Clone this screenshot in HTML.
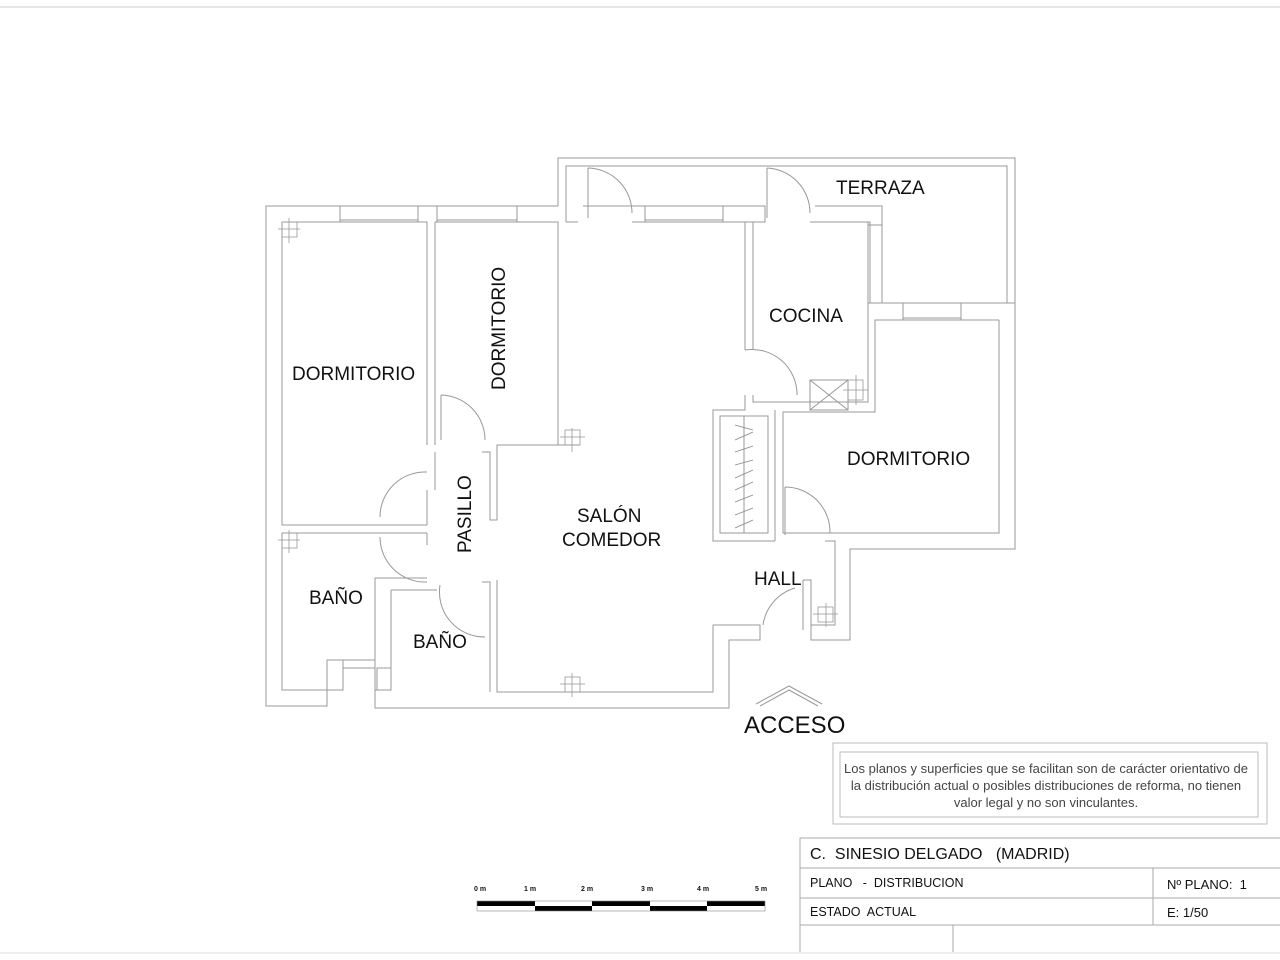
<!DOCTYPE html>
<html><head><meta charset="utf-8"><style>
html,body{margin:0;padding:0;background:#fff;width:1280px;height:960px;overflow:hidden}
svg{display:block}
text{font-family:"Liberation Sans",sans-serif;fill:#111;white-space:pre}
</style></head><body>
<svg width="1280" height="960" viewBox="0 0 1280 960" xmlns="http://www.w3.org/2000/svg">
<g fill="none" stroke="#999" stroke-width="1">
<line x1="0" y1="7" x2="1280" y2="7" stroke="#ccc"/>
<polyline points="558,206 266,206 266,706 327,706 327,690 343,690 343,660"/>
<polyline points="282,222 282,525 427,525"/>
<polyline points="282,533 282,690 327,690 327,660 375,660 375,708 729,708 729,640 760,640 760,625 713,625 713,692 497,692 497,580"/>
<polyline points="282,222 340,222"/><polyline points="418,222 427,222 427,445"/>
<polyline points="435,222 435,445"/>
<polyline points="435,222 437,222"/><polyline points="517,222 558,222 558,445 497,445 497,520 490,520 490,452 482,452"/>
<polyline points="427,490 427,525"/><polyline points="435,452 435,490"/>
<polyline points="282,533 427,533"/>
<polyline points="427,545 427,533"/>
<polyline points="386,578 375,578 375,660"/><polyline points="391,590 391,690 385,690"/>
<polyline points="391,590 437,590"/><polyline points="383,578 427,578"/>
<polyline points="482,582 490,582 490,692"/><polyline points="497,580 497,692"/>
<polyline points="343,660 375,660"/><polyline points="343,668 375,668 375,690 391,690"/>
<polyline points="558,206 558,158 1015,158 1015,303 1007,303 1007,166 566,166 566,222"/>
<polyline points="566,222 578,222"/>
<polyline points="632,222 645,222 645,206 583,206"/>
<polyline points="633,206 645,206"/>
<polyline points="723,206 765,206 765,222 745,222 745,350"/>
<polyline points="723,222 750,222"/><polyline points="810,222 870,222 870,303"/>
<polyline points="815,206 882,206 882,303 907,303"/>
<polyline points="753,222 753,350"/>
<polyline points="961,303 1015,303 1015,549 850,549 850,640 811,640 811,625 835,625 835,541 825,541"/>
<polyline points="999,320 999,533 783,533 783,412 875,412 875,320 999,320"/>
<polyline points="745,395 745,410 713,410 713,541 775,541"/>
<polyline points="753,395 753,402 868,402 868,380 868,222"/>
<polyline points="760,625 760,640"/><polyline points="803,580 811,580 811,625"/>
<polyline points="803,580 803,630"/>
<polyline points="775,541 775,410"/>
<polyline points="558,222 558,445 580,445"/>
<rect x="720" y="416" width="48" height="117"/>
<line x1="744" y1="416" x2="744" y2="533"/>
<g stroke="#888" stroke-width="0.8">
<line x1="735" y1="425" x2="753" y2="430"/><line x1="735" y1="440" x2="753" y2="432"/>
<line x1="735" y1="452" x2="753" y2="446"/><line x1="735" y1="465" x2="753" y2="460"/>
<line x1="735" y1="478" x2="753" y2="470"/><line x1="735" y1="490" x2="753" y2="482"/>
<line x1="735" y1="502" x2="753" y2="495"/><line x1="735" y1="515" x2="753" y2="508"/>
<line x1="735" y1="528" x2="753" y2="520"/>
</g>
<rect x="810" y="380" width="38" height="30"/>
<line x1="810" y1="380" x2="848" y2="410"/><line x1="848" y1="380" x2="810" y2="410"/>
<path d="M588,168 L588,218 M588,168 A45,45 0 0 1 632,213"/>
<path d="M767,168 L767,218 M767,168 A45,45 0 0 1 810,213"/>
<path d="M745,350 A45,45 0 0 1 797,395"/>
<path d="M441,395 L441,440 M441,395 A45,45 0 0 1 485,440"/>
<path d="M427,472 A45,45 0 0 0 380,517"/>
<path d="M427,582 A45,45 0 0 1 380,537"/>
<path d="M440,585 A45,45 0 0 0 485,637"/>
<path d="M785,487 L785,535 M785,487 A45,45 0 0 1 830,533"/>
<path d="M763,625 A45,45 0 0 1 795,588"/>
<rect x="340" y="206" width="78" height="16"/><line x1="340" y1="220" x2="418" y2="220"/>
<rect x="437" y="206" width="80" height="16"/><line x1="437" y1="220" x2="517" y2="220"/>
<rect x="645" y="206" width="78" height="16"/><line x1="645" y1="220" x2="723" y2="220"/>
<rect x="903" y="303" width="58" height="17"/><line x1="903" y1="318" x2="961" y2="318"/>
<rect x="868" y="225" width="14" height="78"/>
<rect x="343" y="660" width="32" height="8"/><rect x="377" y="668" width="14" height="22"/>
<g stroke="#999" stroke-width="0.8">
<rect x="282" y="222" width="15" height="15"/><line x1="278" y1="229" x2="300" y2="229"/><line x1="289" y1="218" x2="289" y2="243"/>
<rect x="282" y="533" width="15" height="15"/><line x1="278" y1="540" x2="300" y2="540"/><line x1="289" y1="530" x2="289" y2="553"/>
<rect x="565" y="430" width="15" height="15"/><line x1="560" y1="437" x2="585" y2="437"/><line x1="572" y1="428" x2="572" y2="452"/>
<rect x="565" y="677" width="15" height="15"/><line x1="560" y1="684" x2="585" y2="684"/><line x1="572" y1="673" x2="572" y2="697"/>
<rect x="848" y="380" width="15" height="20"/><line x1="843" y1="390" x2="868" y2="390"/><line x1="856" y1="375" x2="856" y2="405"/>
<rect x="818" y="607" width="15" height="15"/><line x1="813" y1="614" x2="838" y2="614"/><line x1="826" y1="603" x2="826" y2="627"/>
</g>
<polyline points="756,704 789,686 822,704"/><polyline points="760,706 789,690 818,706"/>
<rect x="833" y="743" width="434" height="81" stroke="#bbb"/>
<rect x="840" y="752" width="418" height="65" stroke="#bbb"/>
<g stroke="#aaa">
<polyline points="800,952 800,838 1280,838"/>
<line x1="800" y1="868" x2="1280" y2="868"/>
<line x1="800" y1="898" x2="1280" y2="898"/>
<line x1="800" y1="925" x2="1280" y2="925"/>
<line x1="1153" y1="868" x2="1153" y2="925"/>
<line x1="953" y1="925" x2="953" y2="952"/>
<line x1="0" y1="953" x2="1280" y2="953" stroke="#ddd"/>
</g>
</g>
<g stroke="none" fill="#000">
<rect x="477" y="901" width="58" height="5"/><rect x="592" y="901" width="58" height="5"/><rect x="707" y="901" width="58" height="5"/>
<rect x="535" y="906" width="57" height="5"/><rect x="650" y="906" width="57" height="5"/>
</g>
<rect x="477" y="901" width="288" height="10" fill="none" stroke="#888" stroke-width="0.6"/>
<g font-size="7" font-weight="bold">
<text x="474" y="891">0 m</text><text x="524" y="891">1 m</text><text x="581" y="891">2 m</text><text x="641" y="891">3 m</text><text x="697" y="891">4 m</text><text x="755" y="891">5 m</text>
</g>
<g font-size="19">
<text x="836" y="194">TERRAZA</text>
<text x="769" y="322">COCINA</text>
<text x="292" y="380">DORMITORIO</text>
<text x="847" y="465">DORMITORIO</text>
<text x="577" y="522">SALÓN</text>
<text x="562" y="546">COMEDOR</text>
<text x="754" y="585">HALL</text>
<text x="309" y="604">BAÑO</text>
<text x="413" y="648">BAÑO</text>
<text transform="translate(505,390) rotate(-90)">DORMITORIO</text>
<text transform="translate(471,553) rotate(-90)">PASILLO</text>
</g>
<text x="744" y="733" font-size="24">ACCESO</text>
<g font-size="13" text-anchor="middle">
<text x="1046" y="773" style="fill:#444">Los planos y superficies que se facilitan son de carácter orientativo de</text>
<text x="1046" y="790" style="fill:#444">la distribución actual o posibles distribuciones de reforma, no tienen</text>
<text x="1046" y="807" style="fill:#444">valor legal y no son vinculantes.</text>
</g>
<text x="810" y="859" font-size="16">C.  SINESIO DELGADO   (MADRID)</text>
<text x="810" y="887" font-size="12.5">PLANO   -  DISTRIBUCION</text>
<text x="810" y="916" font-size="12.5">ESTADO  ACTUAL</text>
<text x="1167" y="889" font-size="13">Nº PLANO:  1</text>
<text x="1167" y="917" font-size="13">E: 1/50</text>
</svg>
</body></html>
